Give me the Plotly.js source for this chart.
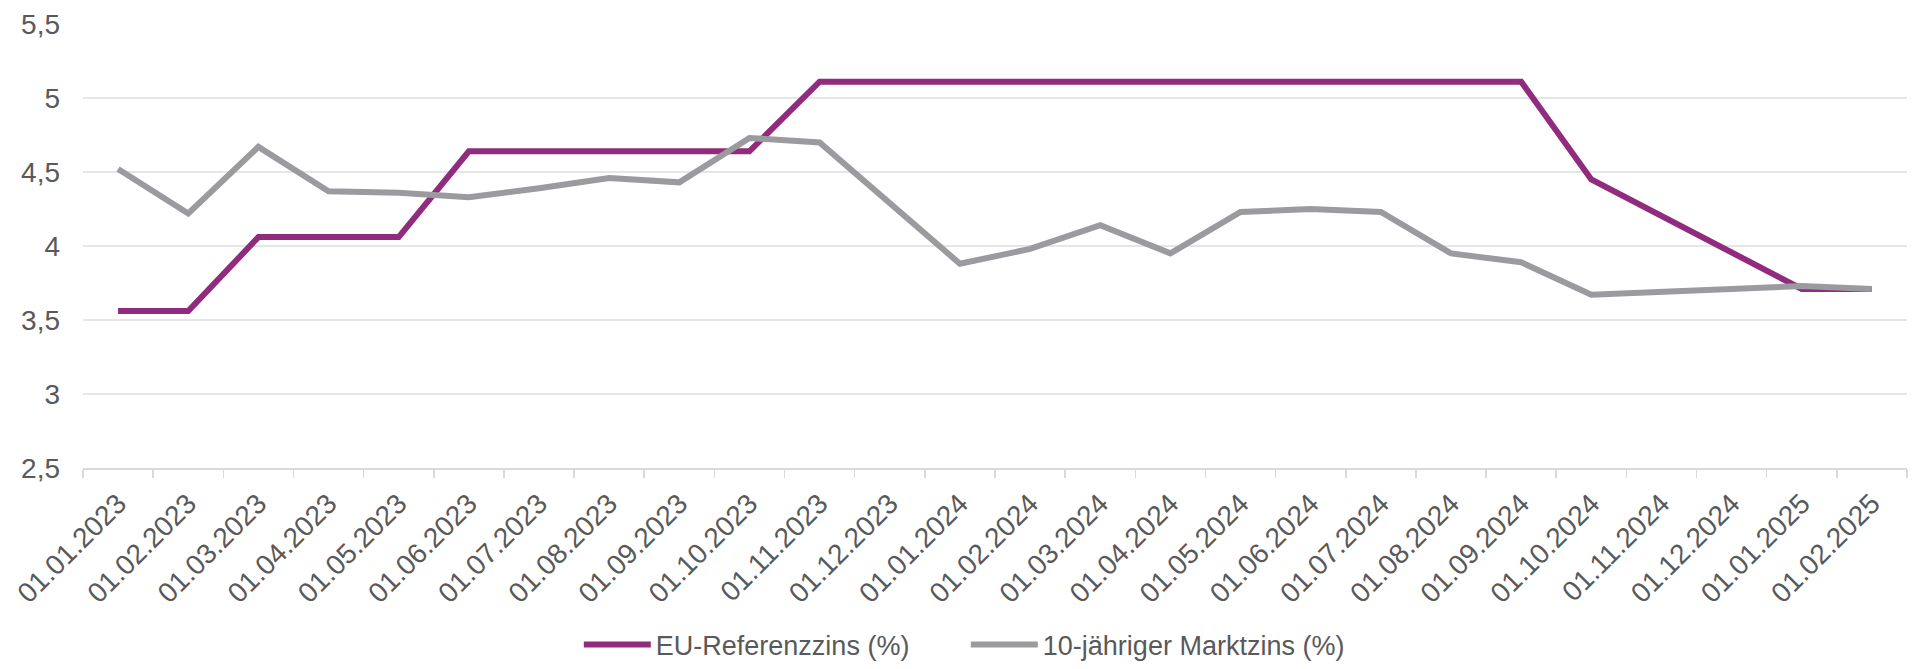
<!DOCTYPE html>
<html>
<head>
<meta charset="utf-8">
<script src="https://cdn.plot.ly/plotly-3.0.1.min.js"></script>
<style>
html,body{margin:0;padding:0;background:#fff;}
#chart{width:1914px;height:669px;}
</style>
</head>
<body>
<div id="chart"></div>
<script>
const categories = ["01.01.2023","01.02.2023","01.03.2023","01.04.2023","01.05.2023","01.06.2023","01.07.2023","01.08.2023","01.09.2023","01.10.2023","01.11.2023","01.12.2023","01.01.2024","01.02.2024","01.03.2024","01.04.2024","01.05.2024","01.06.2024","01.07.2024","01.08.2024","01.09.2024","01.10.2024","01.11.2024","01.12.2024","01.01.2025","01.02.2025"];
const euReferenzzins = [3.56,3.56,4.06,4.06,4.06,4.64,4.64,4.64,4.64,4.64,5.11,5.11,5.11,5.11,5.11,5.11,5.11,5.11,5.11,5.11,5.11,4.45,4.20,3.96,3.71,3.71];
const marktzins10J = [4.52,4.22,4.67,4.37,4.36,4.33,4.39,4.46,4.43,4.73,4.70,4.29,3.88,3.98,4.14,3.95,4.23,4.25,4.23,3.95,3.89,3.67,3.69,3.71,3.73,3.71];
const seriesNames = ["EU-Referenzzins (%)", "10-jähriger Marktzins (%)"];
const yTicks = [2.5,3,3.5,4,4.5,5,5.5];

const font = 'Arial, "Liberation Sans", sans-serif';
const textColor = '#595959';

const traces = [
  {x: categories, y: euReferenzzins, name: seriesNames[0], type: 'scatter', mode: 'lines',
   line: {color: '#912B7D', width: 6}, hoverinfo: 'x+y'},
  {x: categories, y: marktzins10J, name: seriesNames[1], type: 'scatter', mode: 'lines',
   line: {color: '#9B9A9F', width: 6}, hoverinfo: 'x+y'}
];

const layout = {
  width: 1914, height: 669,
  paper_bgcolor: '#ffffff', plot_bgcolor: '#ffffff',
  separators: ',.',
  margin: {l: 83, r: 7, t: 24, b: 201, autoexpand: false},
  font: {family: font, size: 27, color: textColor},
  showlegend: true,
  legend: {orientation: 'h', x: 0.484, xanchor: 'center', yref: 'container', y: 0.036, yanchor: 'middle',
           itemwidth: 67, entrywidth: 305, entrywidthmode: 'pixels',
           font: {family: font, size: 27, color: textColor}, traceorder: 'normal'},
  xaxis: {
    type: 'category', range: [-0.5, 25.5], automargin: false,
    tickangle: -45, tickson: 'boundaries', ticks: 'outside', ticklen: 8, tickwidth: 1.5, tickcolor: '#d9d9d9',
    showline: true, linecolor: '#d9d9d9', linewidth: 2, ticklabelstandoff: 6,
    showgrid: false, zeroline: false,
    tickfont: {family: font, size: 28, color: textColor}
  },
  yaxis: {
    range: [2.5, 5.5], tickvals: yTicks, automargin: false,
    showgrid: true, gridcolor: '#e6e6e6', gridwidth: 2,
    showline: false, zeroline: false, ticks: '', ticklabelstandoff: 22,
    tickfont: {family: font, size: 28, color: textColor}
  }
};

Plotly.newPlot('chart', traces, layout, {displayModeBar: false, staticPlot: true});
</script>
</body>
</html>
